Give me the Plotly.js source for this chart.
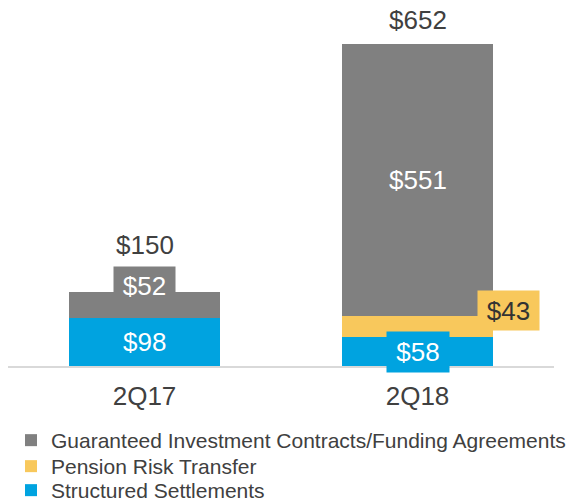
<!DOCTYPE html>
<html>
<head>
<meta charset="utf-8">
<script src="https://cdn.plot.ly/plotly-3.0.1.min.js"></script>
<style>html,body{margin:0;padding:0;background:#fff;}#chart{width:573px;height:503px;}</style>
</head>
<body>
<div id="chart"></div>
<script>
var categories = ["2Q17", "2Q18"];
var seriesNames = ["Structured Settlements", "Pension Risk Transfer", "Guaranteed Investment Contracts/Funding Agreements"];
var structuredSettlements = [98, 58];
var pensionRiskTransfer = [0, 43];
var gicFundingAgreements = [52, 551];
var totals = [150, 652];

var colors = {ss: "#00A3E0", prt: "#F8C85C", gic: "#808080"};
var FONT = "Liberation Sans, Arial, sans-serif";
var textDark = "#404040";

var traces = [
  {type: "bar", name: seriesNames[0], x: categories, y: structuredSettlements, marker: {color: colors.ss}, hoverinfo: "none", legend: "legend3"},
  {type: "bar", name: seriesNames[1], x: categories, y: pensionRiskTransfer, marker: {color: colors.prt}, hoverinfo: "none", legend: "legend2"},
  {type: "bar", name: seriesNames[2], x: categories, y: gicFundingAgreements, marker: {color: colors.gic}, hoverinfo: "none", legend: "legend"}
];

function lbl(v){ return "$" + v; }

var annotations = [
  {x: categories[0], y: totals[0], text: lbl(totals[0]), showarrow: false, yanchor: "middle", yshift: 47, font: {family: FONT, size: 26, color: textDark}},
  {x: categories[1], y: totals[1], text: lbl(totals[1]), showarrow: false, yanchor: "middle", yshift: 24, font: {family: FONT, size: 26, color: textDark}},
  {x: categories[0], y: structuredSettlements[0] / 2, text: lbl(structuredSettlements[0]), showarrow: false, font: {family: FONT, size: 26, color: "#ffffff"}},
  {x: categories[0], y: structuredSettlements[0] + gicFundingAgreements[0] / 2, text: lbl(gicFundingAgreements[0]), showarrow: false, yshift: 19,
   bgcolor: colors.gic, width: 61, height: 38, borderpad: 0, font: {family: FONT, size: 26, color: "#ffffff"}},
  {x: categories[1], y: structuredSettlements[1] / 2, text: lbl(structuredSettlements[1]), showarrow: false,
   bgcolor: colors.ss, width: 62, height: 40, borderpad: 0, font: {family: FONT, size: 26, color: "#ffffff"}},
  {x: categories[1], y: structuredSettlements[1] + pensionRiskTransfer[1] / 2, text: lbl(pensionRiskTransfer[1]), showarrow: false, xshift: 91, yshift: 16,
   bgcolor: colors.prt, width: 61, height: 39, borderpad: 0, font: {family: FONT, size: 26, color: "#333333"}},
  {x: categories[1], y: structuredSettlements[1] + pensionRiskTransfer[1] + gicFundingAgreements[1] / 2, text: lbl(gicFundingAgreements[1]), showarrow: false,
   font: {family: FONT, size: 26, color: "#ffffff"}}
];

function legendAt(topPx){
  return {
    orientation: "v", xref: "container", yref: "container",
    x: 11 / 573, xanchor: "left", y: 1 - topPx / 503, yanchor: "top",
    font: {family: FONT, size: 21, color: textDark},
    bgcolor: "rgba(0,0,0,0)", borderwidth: 0, itemclick: false, itemdoubleclick: false
  };
}

var layout = {
  width: 573, height: 503,
  margin: {l: 8, r: 19, t: 0, b: 137, autoexpand: false},
  paper_bgcolor: "#ffffff", plot_bgcolor: "#ffffff",
  barmode: "stack",
  bargap: 0.445,
  font: {family: FONT, color: textDark},
  xaxis: {
    type: "category", range: [-0.5, 1.5], showgrid: false, zeroline: false,
    showline: true, linecolor: "#D9D9D9", linewidth: 2,
    ticks: "", ticklabelstandoff: 6, fixedrange: true,
    tickfont: {family: FONT, size: 26, color: textDark}
  },
  yaxis: {range: [0, 741.5], showgrid: false, zeroline: false, showticklabels: false, showline: false, ticks: "", fixedrange: true},
  showlegend: true,
  legend: legendAt(420),
  legend2: legendAt(446),
  legend3: legendAt(470),
  annotations: annotations
};

Plotly.newPlot("chart", traces, layout, {displayModeBar: false, staticPlot: true});
</script>
</body>
</html>
